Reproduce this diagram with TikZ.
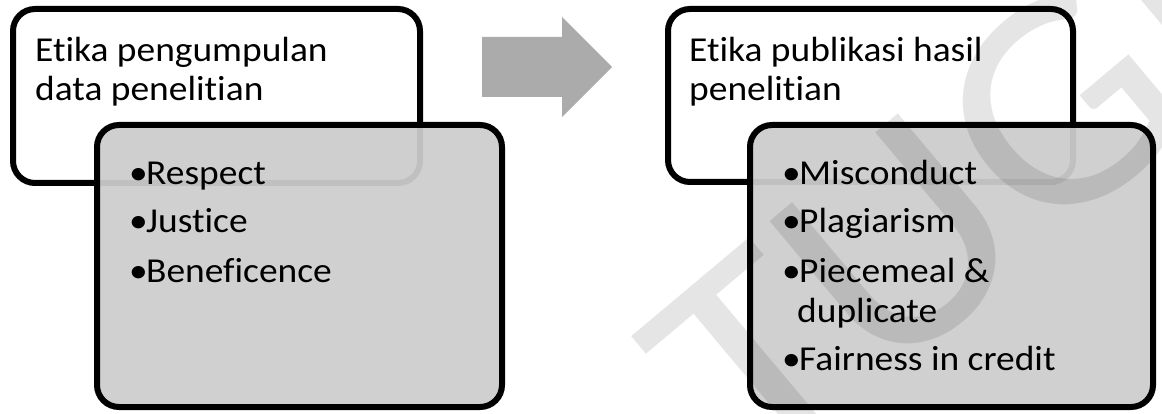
\documentclass[tikz,border=0pt]{standalone}
\usepackage{fontspec}
\setmainfont[Ligatures=NoCommon,FakeStretch=1.07]{Carlito}
\definecolor{boxgray}{RGB}{205,205,205}
\definecolor{arrowgray}{RGB}{171,171,171}
\begin{document}
\begin{tikzpicture}[x=1pt,y=-1pt,
  whitebox/.style={draw=black, line width=6pt, rounded corners=22pt, fill=white, inner sep=0pt},
  graybox/.style={draw=black, line width=6pt, rounded corners=22pt, fill=boxgray, fill opacity=0.94, draw opacity=1, inner sep=0pt},
  txt/.style={anchor=base west, inner sep=0pt, font=\fontsize{35}{40}\selectfont, text=black},
  wm/.style={inner sep=0pt, rotate=40, font=\fontsize{310}{310}\selectfont, text=black, text opacity=0.1}]
\useasboundingbox (0,0) rectangle (1162,414);
\newcommand\bul[1]{\makebox[17pt][l]{•}#1}
% left group
\node[whitebox, minimum width=407pt, minimum height=174pt] (w1) at (216.5,96) {};
\node[txt] (h1a) at (35,62) {Etika pengumpulan};
\node[txt] (h1b) at (35,101) {data penelitian};
\node[graybox, minimum width=405pt, minimum height=282pt] (g1) at (299.5,266) {};
\node[txt] (i1a) at (129,185) {\bul{Respect}};
\node[txt] (i1b) at (129,233) {\bul{Justice}};
\node[txt] (i1c) at (129,282) {\bul{Beneficence}};
% arrow
\fill[arrowgray] (482,37) -- (562,37) -- (562,17) -- (612,67) -- (562,117) -- (562,97) -- (482,97) -- cycle;
% right group
\node[whitebox, minimum width=405pt, minimum height=173pt] (w2) at (870.5,95.5) {};
\node[txt] (h2a) at (689,62) {Etika publikasi hasil};
\node[txt] (h2b) at (689,101) {penelitian};
\node[graybox, minimum width=403pt, minimum height=282pt] (g2) at (951.5,266) {};
\node[txt] (i2a) at (782,185) {\bul{Misconduct}};
\node[txt] (i2b) at (782,233) {\bul{Plagiarism}};
\node[txt] (i2c) at (782,282) {\bul{Piecemeal \&}};
\node[txt] (i2d) at (797,322) {duplicate};
\node[txt] (i2e) at (782,370) {\bul{Fairness in credit}};
% watermark
\node[wm] (wmk) at (1025,137) {TUGM};
\end{tikzpicture}
\end{document}
